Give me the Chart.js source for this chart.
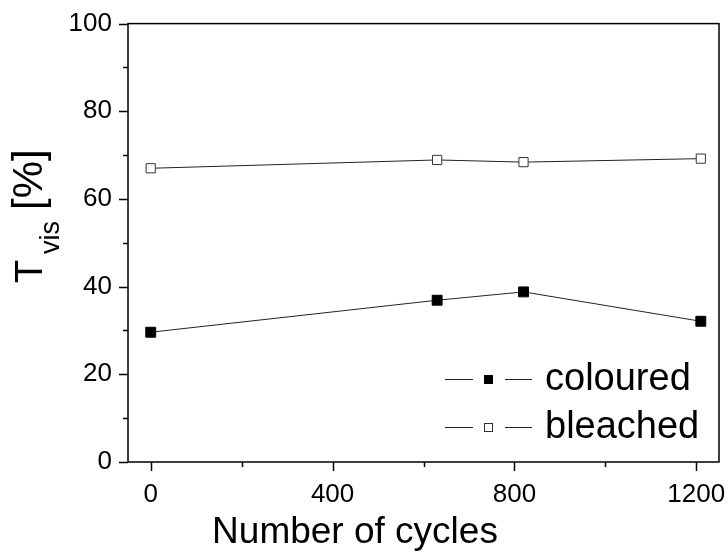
<!DOCTYPE html>
<html>
<head>
<meta charset="utf-8">
<script src="https://cdn.jsdelivr.net/npm/chart.js@4"></script>
<style>
  html, body { margin: 0; padding: 0; background: #fff; }
  #wrap { width: 728px; height: 560px; }
</style>
</head>
<body>
<div id="wrap"><canvas id="chart" width="728" height="560"></canvas></div>
<script>
// values
const cycles = [0, 630, 820, 1210];
const coloured = [29.6, 36.9, 38.8, 32.1];
const bleached = [67.0, 68.9, 68.4, 69.2];
const seriesNames = ['coloured', 'bleached'];
const xTickValues = [0, 200, 400, 600, 800, 1000, 1200];
const yTickValues = [0, 10, 20, 30, 40, 50, 60, 70, 80, 90, 100];
const xTitle = 'Number of cycles';

const FONT = '"Liberation Sans", Arial, sans-serif';
const $ctx = document.getElementById('chart').getContext('2d');

let toPoints = (ys) => cycles.map((x, i) => ({ x: x, y: ys[i] }));

// box, ticks (major + minor), legend and axis titles
const frame = {
    id: 'frame',
    afterDraw(chart) {
        const { ctx, chartArea: a, scales: { x, y } } = chart;
        ctx.save();
        ctx.strokeStyle = '#000';
        ctx.lineWidth = 1.5;
        ctx.strokeRect(a.left, a.top, a.right - a.left, a.bottom - a.top);

        ctx.beginPath();
        xTickValues.forEach(v => {
            const px = Math.round(x.getPixelForValue(v)) + .5;
            const len = v % 400 === 0 ? 9 : 5;
            ctx.moveTo(px, a.bottom);
            ctx.lineTo(px, a.bottom + len);
        });
        yTickValues.forEach(v => {
            const py = Math.round(y.getPixelForValue(v)) + .5;
            const len = v % 20 === 0 ? 9 : 5;
            ctx.moveTo(a.left, py);
            ctx.lineTo(a.left - len, py);
        });
        ctx.stroke();

        // legend: line - marker - line  label
        const rows = [379, 427];
        chart.data.datasets.forEach((ds, i) => {
            const ly = rows[i] + .5;
            ctx.strokeStyle = '#222';
            ctx.lineWidth = 1;
            ctx.beginPath();
            ctx.moveTo(445, ly); ctx.lineTo(473, ly);
            ctx.moveTo(505, ly); ctx.lineTo(532, ly);
            ctx.stroke();
            ctx.fillStyle = ds.pointBackgroundColor;
            ctx.fillRect(484, rows[i] - 4, 9, 9);
            ctx.strokeStyle = ds.pointBorderColor;
            ctx.strokeRect(484.5, rows[i] - 3.5, 8, 8);
            ctx.fillStyle = '#000';
            ctx.font = '38px ' + FONT;
            ctx.textBaseline = 'middle';
            ctx.textAlign = 'left';
            ctx.fillText(ds.label, 545, rows[i] + 1);
        });

        // x title (sits left of the plot centre in the original)
        ctx.fillStyle = '#000';
        ctx.font = '37px ' + FONT;
        ctx.textAlign = 'center';
        ctx.textBaseline = 'middle';
        ctx.fillText(xTitle, 355, 533);

        // y title with subscript
        ctx.translate(42, 283);
        ctx.rotate(-Math.PI / 2);
        ctx.textBaseline = 'alphabetic';
        ctx.textAlign = 'left';
        ctx.font = '38px ' + FONT;
        ctx.fillText('T', 0, 0);
        ctx.font = '27px ' + FONT;
        ctx.fillText('vis', 29, 17);
        ctx.font = '42px ' + FONT;
        ctx.fillText('[%]', 73, 0);
        ctx.restore();
    }
};

const data = {
    datasets: [{
        label: seriesNames[0],
        data: toPoints(coloured),
        borderColor: '#222',
        borderWidth: 1,
        pointStyle: 'rect',
        pointRadius: 7,
        pointBorderWidth: 1,
        pointBackgroundColor: '#000',
        pointBorderColor: '#000',
        showLine: true,
    }, {
        label: seriesNames[1],
        data: toPoints(bleached),
        borderColor: '#222',
        borderWidth: 1,
        pointStyle: 'rect',
        pointRadius: 6.5,
        pointBorderWidth: 1,
        pointBackgroundColor: '#fff',
        pointBorderColor: '#333',
        showLine: true,
    }]
};

const config = {
    type: 'scatter',
    data,
    options: {
        responsive: false,
        animation: false,
        layout: { padding: { top: 19, right: 9, left: 0, bottom: 0 } },
        scales: {
            x: {
                type: 'linear',
                min: -50,
                max: 1250,
                afterBuildTicks: (s) => { s.ticks = xTickValues.filter(v => v % 400 === 0).map(v => ({ value: v })); },
                grid: { display: false },
                border: { display: false },
                ticks: { color: '#000', font: { size: 26, family: FONT }, padding: 9, maxRotation: 0, callback: (v) => String(v) },
                afterFit: (s) => { s.height = 98; s.paddingRight = 0; s.paddingLeft = 0; }
            },
            y: {
                min: 0,
                max: 100,
                afterBuildTicks: (s) => { s.ticks = yTickValues.filter(v => v % 20 === 0).map(v => ({ value: v })); },
                grid: { display: false },
                border: { display: false },
                ticks: { color: '#000', font: { size: 26, family: FONT }, padding: 8, callback: (v) => String(v) },
                afterFit: (s) => { s.width = 128; }
            }
        },
        plugins: {
            legend: { display: false },
            tooltip: { enabled: false }
        }
    },
    plugins: [frame]
};

new Chart($ctx, config);
</script>
</body>
</html>
